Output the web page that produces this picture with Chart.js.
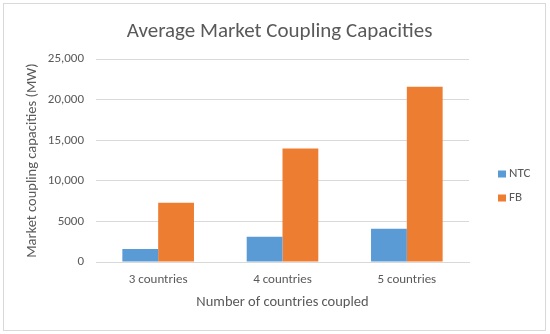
<!DOCTYPE html>
<html>
<head>
<meta charset="utf-8">
<script src="https://cdn.jsdelivr.net/npm/chart.js@4"></script>
<style>
  html, body { margin: 0; padding: 0; background: #fff; }
  #wrap { position: absolute; left: 3px; top: 3px; width: 541px; height: 326px; border: 1px solid #d9d9d9; box-sizing: content-box; }
  canvas { display: block; }
</style>
</head>
<body>
<div id="wrap"><canvas id="c" width="541" height="326"></canvas></div>
<script>
const categories = ["3 countries", "4 countries", "5 countries"];
const ntcValues = [1600, 3100, 4100];
const fbValues = [7300, 14000, 21600];
const yTicks = [0, 5000, 10000, 15000, 20000, 25000];
const seriesNames = ["NTC", "FB"];

const FONT = "Carlito, Lato, 'Liberation Sans', sans-serif";
const GREY = "#595959";

function fmt(v) {
  if (v < 10000) return String(v);
  return v.toLocaleString("en-US");
}

const sideLegend = {
  id: "sideLegend",
  afterDraw(chart) {
    const ctx = chart.ctx;
    const ds = chart.data.datasets;
    ctx.save();
    ctx.font = "13px " + FONT;
    ctx.textBaseline = "middle";
    ctx.textAlign = "left";
    const x = 494;
    const y0 = 170;
    const gap = 24;
    ds.forEach((d, i) => {
      const y = y0 + i * gap;
      ctx.fillStyle = d.backgroundColor;
      ctx.fillRect(x, y - 3.5, 8, 7);
      ctx.fillStyle = GREY;
      ctx.fillText(d.label, x + 11, y);
    });
    ctx.restore();
  }
};

new Chart(document.getElementById("c"), {
  type: "bar",
  data: {
    labels: categories,
    datasets: [
      { label: seriesNames[0], data: ntcValues, backgroundColor: "#5B9BD5" },
      { label: seriesNames[1], data: fbValues, backgroundColor: "#ED7D31" }
    ]
  },
  options: {
    responsive: false,
    animation: false,
    devicePixelRatio: 1,
    layout: { padding: { left: 20, right: 10, top: 12, bottom: 19 } },
    datasets: { bar: { categoryPercentage: 0.576, barPercentage: 1.0 } },
    plugins: {
      title: {
        display: true,
        text: "Average Market Coupling Capacities",
        color: GREY,
        font: { family: FONT, size: 21, weight: "normal" },
        padding: { top: 3, bottom: 15 }
      },
      legend: { display: false },
      tooltip: { enabled: false }
    },
    scales: {
      x: {
        grid: { display: false, drawTicks: false },
        border: { display: true, color: "#d9d9d9" },
        ticks: { color: GREY, font: { family: FONT, size: 13 }, padding: 10 },
        title: {
          display: true,
          text: "Number of countries coupled",
          color: GREY,
          font: { family: FONT, size: 14.5 },
          padding: { top: -4, bottom: 0 }
        }
      },
      y: {
        min: 0,
        max: 25000,
        afterBuildTicks: (axis) => { axis.ticks = yTicks.map(v => ({ value: v })); },
        afterFit: (scale) => { scale.width = 72; },
        grid: { color: "#d9d9d9", drawTicks: false },
        border: { display: false },
        ticks: { color: GREY, font: { family: FONT, size: 13 }, padding: 12, callback: (v) => fmt(v) },
        title: {
          display: true,
          text: "Market coupling capacities (MW)",
          color: GREY,
          font: { family: FONT, size: 14.5 },
          padding: { top: 0, bottom: 2 }
        }
      },
      yRightSpace: {
        type: "linear",
        position: "right",
        display: true,
        grid: { display: false, drawTicks: false },
        border: { display: false },
        ticks: { display: false },
        afterFit: (scale) => { scale.width = 66; }
      }
    }
  },
  plugins: [sideLegend]
});
</script>
</body>
</html>
